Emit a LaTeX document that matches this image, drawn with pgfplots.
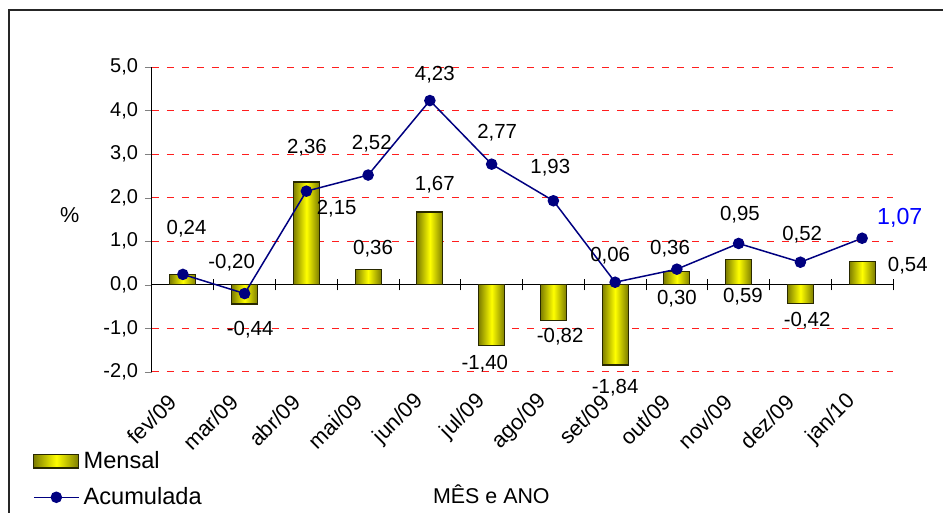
\documentclass[border=0pt]{standalone}
\usepackage{pgfplots}
\usepackage{pgfplotstable}
\pgfplotsset{compat=1.18}
\usepackage{fontspec}
\setmainfont{Liberation Sans}
\definecolor{navyl}{RGB}{0,0,128}
\definecolor{olivebar}{RGB}{125,125,0}
\definecolor{gridred}{RGB}{255,30,30}
\definecolor{barline}{RGB}{40,40,0}
\pgfplotstableread{
x mensal acum
0 0.24 0.24
1 -0.44 -0.20
2 2.36 2.15
3 0.36 2.52
4 1.67 4.23
5 -1.40 2.77
6 -0.82 1.93
7 -1.84 0.06
8 0.30 0.36
9 0.59 0.95
10 -0.42 0.52
11 0.54 1.07
}\datatab
\tikzset{lab/.style={font=\fontsize{10.2}{12}\selectfont, inner sep=0pt, text height=0.716em, text depth=0pt, anchor=center}}
\pgfplotsset{
  barstyle/.style={ybar, bar width=13pt, bar shift=0pt, draw=barline, line width=0.6pt, left color=olivebar, right color=olivebar, middle color=yellow},
  barlegend/.style={legend image code/.code={\draw[#1] (0pt,-3.4pt) rectangle (22.5pt,3.4pt);}},
  linelegend/.style={legend image code/.code={\draw[#1, mark repeat=2, mark phase=2] plot coordinates {(0pt,0pt) (11.25pt,0pt) (22.5pt,0pt)};}},
}
\begin{document}
\begin{tikzpicture}
\begin{axis}[
  scale only axis, width=370.5pt, height=152.5pt,
  xmin=-0.5, xmax=11.5, ymin=-2, ymax=5,
  axis x line=middle, axis y line=left,
  axis line style={-, black, line width=0.5pt},
  hide obscured x ticks=false, hide obscured y ticks=false,
  clip=false,
  xtick={0,...,11},
  xticklabels={fev/09,mar/09,abr/09,mai/09,jun/09,jul/09,ago/09,set/09,out/09,nov/09,dez/09,jan/10},
  major x tick style={draw=none},
  minor xtick={-0.5,0.5,...,11.5},
  minor x tick style={black, line width=0.5pt},
  minor tick length=5.5pt,
  major tick length=3.5pt,
  xtick align=center, ytick align=outside,
  ytick={-2,-1,0,1,2,3,4,5},
  /pgf/number format/assume math mode=true,
  yticklabel style={font=\fontsize{10}{11}\selectfont, /pgf/number format/fixed, /pgf/number format/fixed zerofill, /pgf/number format/precision=1, /pgf/number format/use comma},
  xticklabel style={font=\fontsize{10.9}{12}\selectfont, xshift=-2.5pt, yshift=-52.5pt, rotate=45, anchor=east},
  ymajorgrids,
  grid style={gridred, dash pattern=on 3.5pt off 4pt, line width=0.5pt},
  xlabel={MÊS e ANO},
  every axis x label/.style={at={(axis description cs:0.458,-0.402)}, anchor=center, font=\fontsize{10.7}{12}\selectfont},
  ylabel={\%},
  every axis y label/.style={at={(axis description cs:-0.111,0.515)}, anchor=center, font=\fontsize{10.8}{12}\selectfont},
  legend cell align=left,
  legend style={at={(axis description cs:-0.161,-0.245)}, anchor=north west, draw=none, fill=none, font=\fontsize{11.8}{13}\selectfont, row sep=4pt, inner sep=0pt,
    /tikz/every even column/.append style={column sep=3.5pt}},
]
\pgfplotsinvokeforeach{0,...,11}{
  \addplot[barstyle, forget plot, restrict x to domain=#1:#1] table[x=x,y=mensal]{\datatab};
}
\addlegendimage{barstyle, barlegend}
\addlegendentry{Mensal}
\addplot[navyl, line width=0.75pt, mark=*, mark size=2.5pt, mark options={fill=navyl, draw=navyl}, linelegend]
  table[x=x,y=acum]{\datatab};
\addlegendentry{Acumulada}
\node[lab] at (axis cs:0.06,1.31) {0,24};
\node[lab] at (axis cs:0.79,0.53) {-0,20};
\node[lab] at (axis cs:1.09,-0.99) {-0,44};
\node[lab] at (axis cs:2.01,3.17) {2,36};
\node[lab] at (axis cs:2.49,1.77) {2,15};
\node[lab] at (axis cs:3.06,3.28) {2,52};
\node[lab] at (axis cs:3.08,0.87) {0,36};
\node[lab] at (axis cs:4.08,4.86) {4,23};
\node[lab] at (axis cs:4.08,2.34) {1,67};
\node[lab] at (axis cs:5.09,3.53) {2,77};
\node[lab] at (axis cs:4.89,-1.77) {-1,40};
\node[lab] at (axis cs:5.95,2.71) {1,93};
\node[lab] at (axis cs:6.11,-1.17) {-0,82};
\node[lab] at (axis cs:6.92,0.69) {0,06};
\node[lab] at (axis cs:7.00,-2.34) {-1,84};
\node[lab] at (axis cs:7.89,0.85) {0,36};
\node[lab] at (axis cs:8.00,-0.28) {0,30};
\node[lab] at (axis cs:9.02,1.65) {0,95};
\node[lab] at (axis cs:9.07,-0.23) {0,59};
\node[lab] at (axis cs:10.03,1.19) {0,52};
\node[lab] at (axis cs:10.11,-0.80) {-0,42};
\node[lab] at (axis cs:11.74,0.46) {0,54};
\node[lab, font=\fontsize{11.6}{13}\selectfont, text=blue] at (axis cs:11.61,1.56) {1,07};
\end{axis}
\pgfresetboundingbox
\path (-76pt,-70.5pt) rectangle (395.5pt,186pt);
\draw[overlay, line width=1pt, black!85] (-71.5pt,-80pt) -- (-71.5pt,181pt) -- (400pt,181pt);
\end{tikzpicture}
\end{document}
